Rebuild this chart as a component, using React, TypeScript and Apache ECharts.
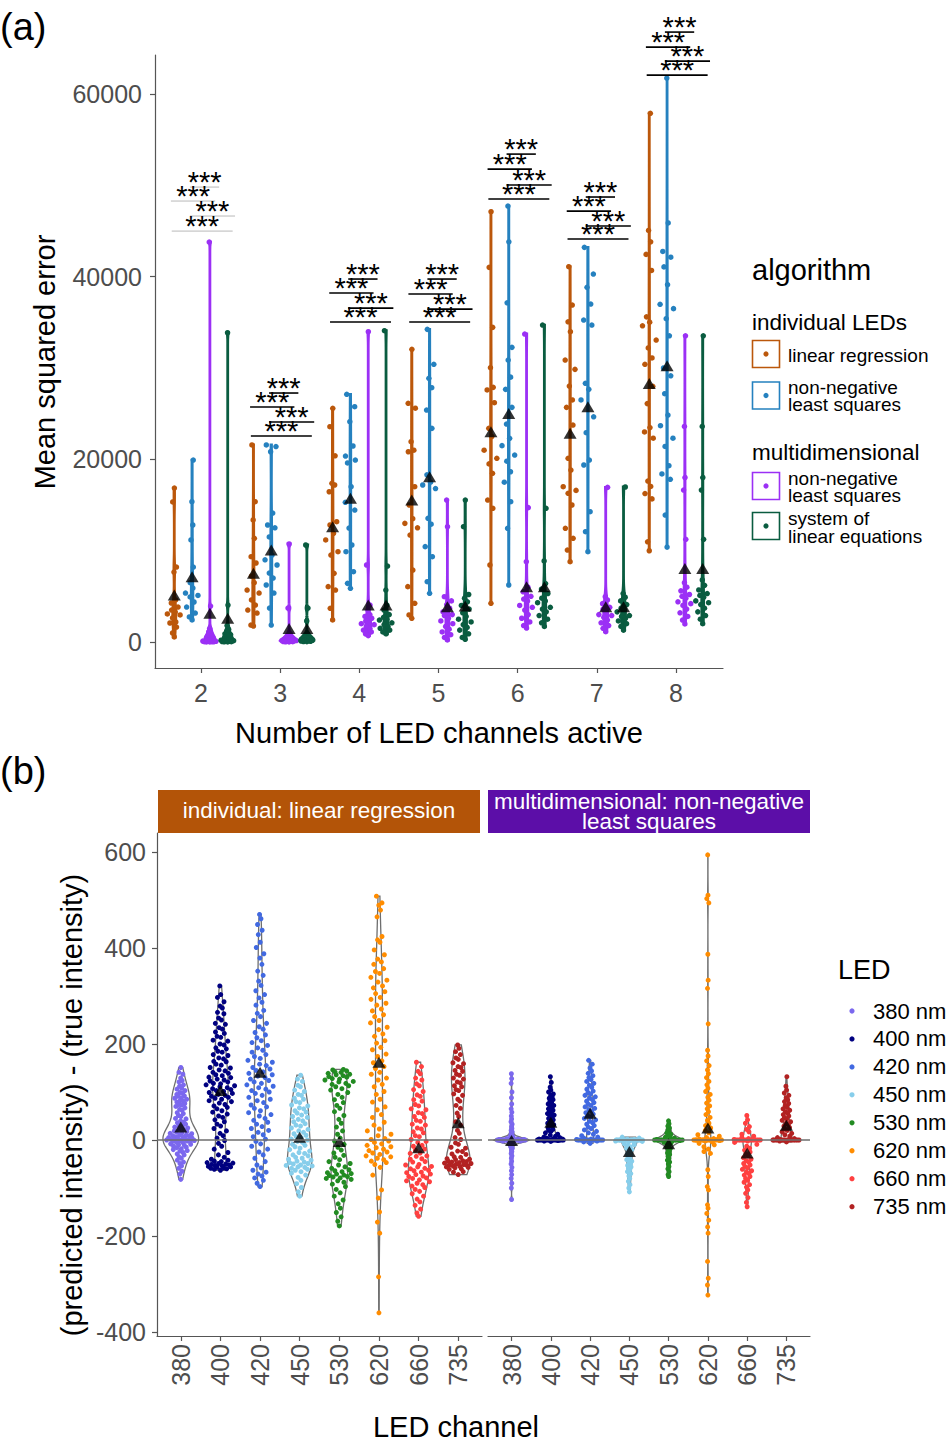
import React, { useEffect, useRef } from "react";
import * as echarts from "echarts";

const FONT = '"Liberation Sans", Arial, Helvetica, sans-serif';
const AXIS_COLOR = "#555555";
const TICK_TEXT = "#4d4d4d";

// ---------------- panel (a): mean squared error ----------------
const channelCounts = [2, 3, 4, 5, 6, 7, 8];
const algorithmColors = ["#BB570B", "#2581BF", "#9B30F5", "#0A5C40"];
const algorithmDodge = [-0.3375, -0.1125, 0.1125, 0.3375];

const mseLinearRegression = [
  [16860, 15330, 8210, 7660, 4600, 4270, 3830, 3500, 3280, 3070, 2960, 2630, 2190, 2080, 1640, 985, 550],
  [21570, 15360, 13360, 11350, 9340, 8650, 7200, 6500, 5690, 5360, 4600, 4050, 3500, 3170, 1860, 1750],
  [25580, 23570, 20390, 17370, 17190, 16450, 13170, 12810, 11900, 11170, 9890, 9520, 7520, 6060, 5690, 3690, 2410],
  [32040, 26130, 25600, 21930, 21000, 20830, 17000, 15000, 13500, 12990, 12500, 11710, 7880, 6060, 4240, 2960, 2590],
  [47110, 41020, 34450, 30030, 27880, 27600, 26200, 23390, 22500, 21000, 20110, 19500, 18470, 15540, 14640, 8430, 4240],
  [41090, 36890, 35060, 33970, 30870, 29850, 28020, 26500, 25690, 23750, 20110, 18830, 17000, 16600, 16280, 15000, 12450, 11350, 10070, 8790],
  [57890, 45060, 43810, 42440, 40680, 35600, 35020, 34620, 33060, 32200, 31100, 30400, 28000, 26100, 23480, 23000, 22310, 17620, 17030, 16250, 15670, 10970, 9990],
];
const mseNnlsIndividual = [
  [19920, 15360, 12810, 11170, 8210, 6500, 5910, 5360, 5100, 4930, 4380, 3830, 3170, 2740, 2410],
  [21570, 21400, 20830, 14120, 12810, 12500, 11500, 9520, 9000, 8430, 7550, 7000, 6240, 5360, 3720, 1860],
  [27120, 25760, 24120, 21460, 20360, 19920, 19600, 17000, 15300, 14450, 12480, 10620, 9890, 7700, 6420, 5880],
  [34230, 30400, 28870, 27840, 25400, 23390, 18300, 17500, 17190, 16800, 13540, 12900, 10440, 9340, 6600, 5330],
  [47730, 43820, 37140, 32260, 30870, 29000, 27660, 25690, 23860, 22300, 21500, 20470, 19800, 18640, 17500, 15360, 12450, 6240],
  [43210, 40290, 38830, 37000, 35250, 34700, 28320, 27660, 26500, 24660, 22920, 19920, 19380, 14270, 12080, 9890],
  [61740, 45880, 42760, 42130, 41070, 39120, 36970, 36500, 35400, 33530, 30000, 29150, 27190, 24850, 23680, 22310, 21410, 19300, 18400, 17810, 13900, 10390],
];
const mseNnlsMulti = [
  [43790, 3940, 1500, 1200, 1100, 900, 800, 700, 600, 500, 400, 350, 300, 250, 200, 150, 100, 80, 60, 40, 30, 20, 10, 5],
  [10730, 3720, 900, 700, 600, 500, 400, 300, 250, 200, 150, 100, 80, 50, 30, 20, 10],
  [33970, 8430, 4050, 3500, 3000, 2800, 2600, 2300, 2100, 2000, 1900, 1700, 1500, 1300, 1100, 900, 700],
  [15540, 12620, 4960, 4500, 4100, 3700, 3300, 3000, 2900, 2600, 2300, 2000, 1700, 1400, 1100, 800, 500, 220],
  [33720, 14710, 8790, 6000, 5500, 5000, 4700, 4500, 4000, 3800, 3500, 3000, 2600, 2200, 1800, 1530],
  [16930, 4960, 4600, 4200, 3800, 3600, 3400, 3000, 2900, 2700, 2400, 2100, 1800, 1500, 1130],
  [33530, 23600, 18010, 16640, 11240, 6500, 6000, 5600, 5200, 5000, 4800, 4400, 4200, 4000, 3600, 3200, 2800, 2400, 1980],
];
const mseSystemLinear = [
  [33860, 4050, 1800, 1400, 1200, 1100, 900, 800, 700, 600, 500, 400, 300, 250, 200, 150, 100, 80, 50, 30, 20, 10],
  [10620, 3720, 2300, 900, 700, 600, 500, 400, 300, 250, 200, 150, 100, 80, 50, 30],
  [34080, 8320, 5690, 4050, 3500, 3000, 2700, 2500, 2400, 2100, 1900, 1700, 1500, 1300, 1100, 900],
  [15540, 12620, 5200, 4800, 4400, 4000, 3600, 3200, 2800, 2500, 2200, 1900, 1600, 1300, 900, 500, 300],
  [34700, 14640, 8870, 6400, 5800, 5300, 4800, 4500, 4300, 3800, 3600, 3300, 2900, 2500, 2100, 1700],
  [16970, 5300, 4900, 4500, 4100, 3700, 3500, 3300, 2900, 2800, 2600, 2300, 2000, 1700, 1300],
  [33530, 23600, 18010, 16640, 11240, 6800, 6200, 5700, 5300, 5100, 4900, 4500, 4300, 4100, 3700, 3300, 2900, 2500, 2000],
];
const meanLinearRegression = [5145, 7520, 12620, 15540, 23020, 22850, 28290];
const meanNnlsIndividual = [7150, 10070, 15730, 18100, 25030, 25760, 30250];
const meanNnlsMulti = [3140, 1480, 4050, 3870, 6060, 3870, 8040];
const meanSystemLinear = [2590, 1480, 4050, 3950, 6060, 3870, 8040];

// significance brackets (y level per channel count, 4 comparisons each)
const sigLevels = [
  [49810, 48280, 46640, 44990],
  [27260, 25730, 24080, 22550],
  [39740, 38210, 36560, 35030],
  [39740, 38100, 36450, 35030],
  [53420, 51780, 50030, 48500],
  [48720, 47180, 45540, 44120],
  [66780, 65130, 63600, 62070],
];
const sigLeft = [-0.14, -0.38, -0.14, -0.37];
const sigRight = [0.23, 0.18, 0.43, 0.4];
const sigLabel = "***";

// ---------------- panel (b): residuals per LED ----------------
const ledChannels = ["380", "400", "420", "450", "530", "620", "660", "735"];
const ledColors = ["#7B68EE", "#000080", "#4169E1", "#87CEEB", "#228B22", "#FF8C00", "#FF4040", "#B22222"];

const lr380 = [151, 141, 137, 129, 124, 121, 115, 112, 108, 106, 103, 99, 98, 95, 92, 91, 88, 87, 85, 82, 81, 79, 76, 74, 73, 70, 67, 64, 62, 57, 55, 51, 49, 45, 44, 40, 37, 36, 33, 31, 29, 27, 25, 23, 22, 19, 18, 17, 15, 14, 13, 11, 10, 9, 9, 7, 6, 5, 4, 4, 3, 2, 1, 1, 0, 0, -1, -2, -2, -3, -4, -5, -6, -8, -9, -10, -11, -13, -15, -16, -18, -20, -22, -23, -26, -29, -31, -35, -38, -42, -46, -49, -54, -59, -65, -71, -82];
const lr400 = [321, 303, 297, 288, 279, 275, 266, 263, 254, 250, 243, 241, 234, 231, 225, 222, 216, 214, 208, 206, 200, 198, 192, 190, 185, 183, 178, 176, 171, 169, 164, 163, 158, 156, 151, 150, 146, 144, 141, 139, 136, 134, 131, 130, 127, 125, 123, 121, 118, 117, 115, 113, 111, 109, 107, 105, 103, 101, 99, 97, 95, 93, 91, 89, 87, 85, 82, 80, 77, 74, 71, 68, 65, 61, 58, 54, 50, 47, 42, 38, 33, 29, 24, 19, 14, 9, 4, -1, -7, -13, -19, -26, -31, -36, -40, -42, -44, -45, -47, -48, -49, -50, -51, -52, -53, -54, -55, -56, -57, -58, -59, -60, -61, -63];
const lr420 = [470, 461, 449, 437, 428, 412, 401, 388, 379, 366, 352, 343, 331, 322, 311, 303, 296, 287, 281, 270, 264, 257, 249, 243, 236, 231, 224, 219, 213, 207, 203, 197, 192, 187, 183, 178, 174, 170, 166, 162, 158, 155, 151, 148, 145, 142, 139, 136, 133, 130, 127, 124, 121, 118, 115, 112, 109, 106, 103, 100, 97, 93, 89, 85, 82, 78, 73, 69, 66, 61, 57, 53, 50, 45, 41, 37, 33, 28, 24, 20, 16, 11, 7, 2, -3, -8, -13, -19, -25, -31, -38, -45, -52, -58, -63, -67, -71, -75, -79, -84, -90, -97];
const lr450 = [135, 127, 122, 114, 111, 104, 101, 95, 93, 87, 85, 80, 78, 73, 71, 67, 65, 61, 58, 56, 52, 49, 47, 43, 40, 38, 34, 31, 29, 25, 22, 19, 16, 13, 10, 7, 5, 2, 0, -3, -5, -9, -11, -14, -17, -20, -23, -26, -28, -31, -33, -36, -38, -40, -42, -44, -46, -47, -49, -50, -52, -53, -54, -56, -57, -59, -61, -63, -66, -69, -73, -78, -84, -91, -99, -108, -117];
const lr530 = [147, 146, 144, 142, 141, 139, 137, 136, 134, 132, 131, 128, 127, 125, 122, 121, 118, 116, 113, 111, 107, 104, 99, 95, 89, 84, 78, 72, 66, 59, 51, 43, 35, 27, 19, 12, 4, -2, -9, -15, -21, -27, -32, -36, -41, -45, -49, -52, -56, -59, -62, -64, -66, -68, -70, -71, -73, -74, -76, -77, -79, -80, -82, -85, -88, -92, -97, -103, -110, -117, -125, -133, -142, -151, -160, -169, -179];
const lr620 = [508, 494, 489, 479, 465, 424, 417, 412, 396, 386, 377, 371, 366, 357, 351, 347, 339, 333, 329, 321, 317, 309, 305, 297, 293, 285, 281, 273, 269, 261, 257, 249, 244, 235, 230, 221, 216, 207, 202, 193, 188, 179, 174, 165, 161, 153, 149, 141, 137, 129, 125, 116, 111, 101, 95, 85, 79, 69, 63, 53, 47, 37, 31, 23, 19, 12, 9, 3, 1, -2, -5, -8, -11, -14, -16, -19, -22, -25, -27, -30, -33, -35, -38, -41, -44, -47, -51, -57, -73, -104, -121, -150, -171, -194, -285, -360];
const lr660 = [162, 153, 143, 138, 129, 125, 117, 113, 105, 101, 94, 91, 84, 81, 74, 71, 65, 63, 57, 55, 49, 47, 41, 39, 33, 31, 25, 23, 17, 15, 9, 7, 1, -3, -5, -11, -13, -19, -21, -27, -28, -33, -34, -39, -40, -45, -46, -51, -52, -55, -56, -59, -60, -63, -64, -67, -68, -71, -72, -75, -76, -79, -80, -83, -85, -87, -90, -93, -96, -99, -103, -107, -112, -117, -123, -129, -136, -144, -152, -159];
const lr735 = [198, 191, 184, 178, 171, 168, 161, 159, 153, 151, 145, 143, 137, 135, 129, 127, 121, 119, 113, 111, 105, 103, 96, 93, 85, 81, 72, 66, 56, 49, 38, 31, 20, 14, 5, 1, -6, -9, -15, -17, -23, -24, -29, -30, -35, -36, -39, -40, -41, -43, -44, -45, -46, -47, -48, -49, -50, -51, -52, -53, -54, -55, -56, -57, -58, -60, -61, -66, -67, -72];

const nn380 = [138, 128, 118, 100, 88, 75, 65, 58, 50, 44, 38, 33, 28, 24, 20, 17, 14, 11, 9, 7, 5, 4, 3, 2, 2, 1, 1, 1, 0, 0, 0, 0, 0, 0, 0, 0, 0, 0, 0, 0, 0, 0, 0, 0, 0, 0, 0, -1, -1, -1, -2, -2, -3, -4, -5, -7, -9, -11, -14, -17, -20, -24, -28, -33, -38, -44, -50, -57, -64, -72, -80, -90, -100, -124];
const nn400 = [132, 120, 110, 104, 100, 96, 93, 90, 87, 84, 81, 78, 75, 72, 70, 68, 65, 62, 60, 58, 55, 52, 50, 48, 45, 42, 40, 38, 35, 32, 30, 28, 25, 22, 20, 18, 15, 12, 10, 8, 6, 5, 4, 3, 2, 2, 1, 1, 1, 0, 0, 0, 0, 0, 0, 0, 0, 0, 0, 0, 0, 0, 0, 0, 0, -1, -2, -3];
const nn420 = [166, 158, 150, 144, 139, 134, 130, 126, 122, 118, 114, 110, 106, 102, 99, 96, 93, 90, 87, 84, 81, 78, 75, 72, 69, 66, 63, 60, 57, 54, 51, 48, 45, 42, 39, 36, 33, 30, 27, 24, 21, 18, 15, 12, 9, 6, 4, 2, 1, 0, 0, 0, 0, 0, 0, 0, 0, 0, 0, 0, 0, -2, -4, -7];
const nn450 = [6, 4, 2, 1, 0, 0, 0, 0, 0, 0, 0, 0, 0, 0, 0, 0, 0, 0, 0, 0, 0, 0, -1, -1, -2, -3, -4, -6, -8, -10, -12, -14, -17, -20, -23, -26, -29, -32, -35, -38, -41, -44, -47, -50, -53, -56, -59, -62, -66, -70, -75, -80, -86, -93, -100, -108];
const nn530 = [40, 34, 29, 25, 21, 18, 15, 12, 10, 8, 6, 4, 3, 2, 1, 0, 0, 0, 0, 0, 0, 0, 0, 0, 0, 0, 0, 0, 0, 0, 0, -1, -2, -3, -5, -7, -9, -12, -15, -18, -21, -24, -27, -30, -34, -38, -42, -46, -50, -55, -60, -66, -72, -76];
const nn620 = [594, 510, 503, 494, 387, 333, 316, 242, 187, 175, 165, 155, 146, 138, 130, 122, 115, 108, 101, 95, 89, 83, 77, 71, 65, 59, 53, 47, 41, 35, 30, 25, 20, 15, 11, 8, 5, 3, 2, 1, 0, 0, 0, 0, 0, 0, 0, 0, 0, 0, 0, 0, 0, 0, 0, 0, 0, 0, 0, -1, -2, -4, -7, -10, -14, -19, -24, -28, -62, -76, -97, -104, -135, -142, -153, -167, -181, -194, -253, -288, -302, -323];
const nn660 = [51, 42, 35, 28, 22, 17, 12, 8, 5, 3, 1, 0, 0, 0, 0, 0, 0, 0, 0, 0, 0, 0, 0, 0, 0, -2, -5, -9, -13, -17, -21, -25, -29, -33, -37, -40, -43, -46, -49, -52, -55, -58, -61, -64, -67, -70, -73, -76, -80, -84, -88, -93, -98, -104, -111, -120, -130, -139];
const nn735 = [132, 112, 104, 98, 93, 88, 84, 80, 76, 72, 68, 65, 62, 59, 56, 53, 50, 47, 44, 41, 38, 35, 32, 29, 26, 23, 20, 17, 14, 11, 8, 5, 3, 1, 0, 0, 0, 0, 0, 0, 0, 0, 0, 0, 0, 0, 0, 0, 0, -2, -4];

const residualsLinReg = [lr380, lr400, lr420, lr450, lr530, lr620, lr660, lr735];
const residualsNnls = [nn380, nn400, nn420, nn450, nn530, nn620, nn660, nn735];
const meanResidLinReg = [27, 103, 141, 6, -3, 162, -16, 36];
const meanResidNnls = [-1, 37, 56, -24, -8, 25, -27, 31];

// ---------------- statistics helpers ----------------
function quantile7(sorted: number[], p: number) {
  const h = (sorted.length - 1) * p;
  const lo = Math.floor(h);
  const hi = Math.ceil(h);
  return sorted[lo] + (h - lo) * (sorted[hi] - sorted[lo]);
}
function nrd0(x: number[]) {
  const n = x.length;
  const s = [...x].sort((a, b) => a - b);
  const mean = x.reduce((a, b) => a + b, 0) / n;
  const sd = Math.sqrt(x.reduce((a, b) => a + (b - mean) * (b - mean), 0) / (n - 1));
  const iqr = quantile7(s, 0.75) - quantile7(s, 0.25);
  let lo = Math.min(sd, iqr / 1.34);
  if (!(lo > 0)) lo = sd || Math.abs(s[0]) || 1;
  return 0.9 * lo * Math.pow(n, -0.2);
}
function kde(x: number[], bw: number, t: number) {
  let s = 0;
  for (const v of x) {
    const z = (t - v) / bw;
    s += Math.exp(-0.5 * z * z);
  }
  return s / (x.length * bw * Math.sqrt(2 * Math.PI));
}
function vdc(i: number) {
  let r = 0;
  let f = 0.5;
  while (i > 0) {
    r += f * (i & 1);
    i >>= 1;
    f /= 2;
  }
  return r;
}
function quasiOffsets(x: number[], width: number, adjust: number) {
  const bw = nrd0(x) * adjust;
  const mn = Math.min(...x) - 3 * bw;
  const mx = Math.max(...x) + 3 * bw;
  let maxd = 0;
  for (let k = 0; k < 512; k++) {
    const t = mn + ((mx - mn) * k) / 511;
    maxd = Math.max(maxd, kde(x, bw, t));
  }
  const order = x.map((_, i) => i).sort((a, b) => x[a] - x[b] || a - b);
  const rank: number[] = new Array(x.length);
  order.forEach((idx, r) => (rank[idx] = r + 1));
  return x.map((v, i) => (vdc(rank[i]) - 0.5) * 2 * (kde(x, bw, v) / maxd) * width);
}
function violinProfile(x: number[], n = 90) {
  const bw = nrd0(x);
  const mn = Math.min(...x);
  const mx = Math.max(...x);
  const ys: number[] = [];
  const ds: number[] = [];
  for (let k = 0; k < n; k++) {
    const t = mn + ((mx - mn) * k) / (n - 1);
    ys.push(t);
    ds.push(kde(x, bw, t));
  }
  return { ys, ds, max: Math.max(...ds) };
}
function violinPolygon(cx: number, prof: any, halfWidth: number, scaleMax: number) {
  const right = prof.ys.map((y: number, k: number) => [cx + (halfWidth * prof.ds[k]) / scaleMax, y]);
  const left = prof.ys.map((y: number, k: number) => [cx - (halfWidth * prof.ds[k]) / scaleMax, y]).reverse();
  return right.concat(left);
}

export default function App() {
  const ref = useRef<HTMLDivElement>(null);

  useEffect(() => {
    document.body.style.margin = "0";
    if (!ref.current) return;
    const chart = echarts.init(ref.current, null, { renderer: "svg" });

    const mseByAlg = [mseLinearRegression, mseNnlsIndividual, mseNnlsMulti, mseSystemLinear];
    const meanByAlg = [meanLinearRegression, meanNnlsIndividual, meanNnlsMulti, meanSystemLinear];

    // ---- panel (a) violins (scale = area over the panel) ----
    const profA: any[] = [];
    mseByAlg.forEach((alg, a) =>
      alg.forEach((vals, g) => profA.push({ a, cx: channelCounts[g] + algorithmDodge[a], prof: violinProfile(vals) }))
    );
    const maxA = Math.max(...profA.map((p) => p.prof.max));
    const polysA = profA.map((p) => violinPolygon(p.cx, p.prof, 0.1125, maxA));
    const colorsA = profA.map((p) => algorithmColors[p.a]);

    const seriesList: any[] = [];
    seriesList.push({
      type: "custom",
      xAxisIndex: 0,
      yAxisIndex: 0,
      z: 1,
      silent: true,
      data: profA.map((p) => [p.cx, p.prof.ys[0]]),
      renderItem: (params: any, api: any) => ({
        type: "polygon",
        shape: { points: polysA[params.dataIndex].map((pt: number[]) => api.coord(pt)) },
        style: { fill: colorsA[params.dataIndex], stroke: colorsA[params.dataIndex], lineWidth: 2.8 },
      }),
    });

    mseByAlg.forEach((alg, a) => {
      const pts: number[][] = [];
      alg.forEach((vals, g) => {
        const offs = quasiOffsets(vals, 0.1, 0.5);
        vals.forEach((v, i) => pts.push([channelCounts[g] + algorithmDodge[a] + offs[i], v]));
      });
      seriesList.push({
        type: "scatter",
        xAxisIndex: 0,
        yAxisIndex: 0,
        z: 2,
        silent: true,
        symbolSize: 5.5,
        itemStyle: { color: algorithmColors[a], opacity: 1 },
        data: pts,
      });
    });
    seriesList.push({
      type: "scatter",
      xAxisIndex: 0,
      yAxisIndex: 0,
      z: 4,
      silent: true,
      symbol: "triangle",
      symbolSize: [13, 11],
      itemStyle: { color: "#000" },
      data: meanByAlg.flatMap((m, a) => m.map((v, g) => [channelCounts[g] + algorithmDodge[a], v])),
    });
    // significance brackets
    const sigData: number[][] = [];
    sigLevels.forEach((levels, g) =>
      levels.forEach((y, k) => sigData.push([channelCounts[g], y, sigLeft[k], sigRight[k], g === 0 ? 1 : 0]))
    );
    seriesList.push({
      type: "custom",
      xAxisIndex: 0,
      yAxisIndex: 0,
      z: 5,
      clip: false,
      silent: true,
      data: sigData,
      renderItem: (params: any, api: any) => {
        const g = api.value(0);
        const y = api.value(1);
        const p1 = api.coord([g + api.value(2), y]);
        const p2 = api.coord([g + api.value(3), y]);
        const faint = api.value(4) === 1;
        return {
          type: "group",
          children: [
            {
              type: "line",
              shape: { x1: p1[0], y1: p1[1], x2: p2[0], y2: p2[1] },
              style: { stroke: faint ? "#b8b8b8" : "#000", lineWidth: faint ? 1 : 1.6 },
            },
            {
              type: "text",
              x: (p1[0] + p2[0]) / 2,
              y: p1[1] - 5,
              style: {
                text: sigLabel,
                fill: "#000",
                font: `29px ${FONT}`,
                align: "center",
                verticalAlign: "middle",
              },
            },
          ],
        };
      },
    });

    // ---- panel (b) ----
    const facets = [
      { data: residualsLinReg, means: meanResidLinReg, axis: 1 },
      { data: residualsNnls, means: meanResidNnls, axis: 2 },
    ];
    facets.forEach((f) => {
      const profs = f.data.map((vals) => violinProfile(vals));
      const facetMax = Math.max(...profs.map((p) => p.max));
      const polys = profs.map((p, i) => violinPolygon(i, p, 0.45, facetMax));
      seriesList.push({
        type: "custom",
        xAxisIndex: f.axis,
        yAxisIndex: f.axis,
        z: 1,
        silent: true,
        data: profs.map((p, i) => [i, p.ys[0]]),
        renderItem: (params: any, api: any) => ({
          type: "polygon",
          shape: { points: polys[params.dataIndex].map((pt: number[]) => api.coord(pt)) },
          style: { fill: "none", stroke: "#6e6e6e", lineWidth: 1.3 },
        }),
      });
      f.data.forEach((vals, i) => {
        const offs = quasiOffsets(vals, 0.37, 0.5);
        seriesList.push({
          type: "scatter",
          xAxisIndex: f.axis,
          yAxisIndex: f.axis,
          z: 2,
          silent: true,
          symbolSize: 5,
          itemStyle: { color: ledColors[i], opacity: 1 },
          data: vals.map((v, k) => [i + offs[k], v]),
        });
      });
      seriesList.push({
        type: "scatter",
        xAxisIndex: f.axis,
        yAxisIndex: f.axis,
        z: 3,
        silent: true,
        data: [],
        markLine: {
          silent: true,
          symbol: "none",
          label: { show: false },
          lineStyle: { color: "#6e6e6e", width: 1.5, type: "solid" },
          data: [{ yAxis: 0 }],
        },
      });
      seriesList.push({
        type: "scatter",
        xAxisIndex: f.axis,
        yAxisIndex: f.axis,
        z: 4,
        silent: true,
        symbol: "triangle",
        symbolSize: [13, 11],
        itemStyle: { color: "#000" },
        data: f.means.map((v, i) => [i, v]),
      });
    });

    const axisLine = { show: true, onZero: false, lineStyle: { color: AXIS_COLOR, width: 1.2 } };
    const ledPos = ledChannels.map((_, i) => i);
    const ledXAxis = (grid: number) => ({
      gridIndex: grid,
      type: "value",
      position: "bottom",
      min: -0.6,
      max: 7.6,
      axisLine,
      axisTick: { show: true, length: 5, lineStyle: { color: AXIS_COLOR, width: 1.2 }, customValues: ledPos },
      axisLabel: {
        customValues: ledPos,
        formatter: (v: number) => ledChannels[Math.round(v)],
        rotate: 90,
        margin: 8,
        fontSize: 25,
        color: TICK_TEXT,
        fontFamily: FONT,
      },
      splitLine: { show: false },
    });
    const residTicks = [-400, -200, 0, 200, 400, 600];

    const T = (text: string, x: number, y: number, size: number, extra: any = {}) => ({
      type: "text",
      x,
      y,
      silent: true,
      ...extra,
      style: {
        text,
        fill: extra.fill || "#000",
        font: `${size}px ${FONT}`,
        align: extra.align || "left",
        verticalAlign: "middle",
        lineHeight: extra.lineHeight,
      },
    });
    const keyBox = (y: number, color: string) => [
      {
        type: "rect",
        silent: true,
        shape: { x: 752.5, y, width: 27, height: 27 },
        style: { fill: "#fff", stroke: color, lineWidth: 1.6 },
      },
      { type: "circle", silent: true, shape: { cx: 766, cy: y + 13.5, r: 2.6 }, style: { fill: color } },
    ];

    const graphics: any[] = [
      T("(a)", 0, 27, 38),
      T("(b)", 0, 771, 38),
      T("Mean squared error", 45, 362, 29, { align: "center", rotation: Math.PI / 2 }),
      T("Number of LED channels active", 439, 733, 29, { align: "center" }),
      T("(predicted intensity) - (true intensity)", 72, 1105, 29, { align: "center", rotation: Math.PI / 2 }),
      T("LED channel", 456, 1427, 29, { align: "center" }),
      T("algorithm", 752, 270, 29),
      T("individual LEDs", 752, 322, 22.5),
      ...keyBox(340.5, algorithmColors[0]),
      T("linear regression", 788, 355, 19),
      ...keyBox(382, algorithmColors[1]),
      T("non-negative\nleast squares", 788, 396, 19, { lineHeight: 17 }),
      T("multidimensional", 752, 452, 22.5),
      ...keyBox(472.5, algorithmColors[2]),
      T("non-negative\nleast squares", 788, 487, 19, { lineHeight: 17 }),
      ...keyBox(512.5, algorithmColors[3]),
      T("system of\nlinear equations", 788, 527, 19, { lineHeight: 18 }),
      {
        type: "rect",
        silent: true,
        shape: { x: 158, y: 790, width: 322, height: 43 },
        style: { fill: "#B35408" },
      },
      T("individual: linear regression", 319, 810, 22.5, { align: "center", fill: "#fff" }),
      {
        type: "rect",
        silent: true,
        shape: { x: 488, y: 790, width: 322, height: 43 },
        style: { fill: "#5C0EA8" },
      },
      T("multidimensional: non-negative\nleast squares", 649, 811, 22.5, {
        align: "center",
        fill: "#fff",
        lineHeight: 20,
      }),
      T("LED", 838, 970, 27),
      ...ledChannels.flatMap((c, i) => [
        {
          type: "circle",
          silent: true,
          shape: { cx: 852, cy: 1011 + i * 27.95, r: 2.6 },
          style: { fill: ledColors[i] },
        },
        T(`${c} nm`, 873, 1011 + i * 27.95, 22),
      ]),
    ];

    chart.setOption({
      animation: false,
      grid: [
        { left: 155, top: 55, width: 568, height: 613, containLabel: false },
        { left: 157, top: 833, width: 325, height: 503, containLabel: false },
        { left: 488, top: 833, width: 322, height: 503, containLabel: false },
      ],
      xAxis: [
        {
          gridIndex: 0,
          type: "value",
          position: "bottom",
          min: 1.419,
          max: 8.594,
          axisLine,
          axisTick: { show: true, length: 5, lineStyle: { color: AXIS_COLOR, width: 1.2 }, customValues: channelCounts },
          axisLabel: {
            customValues: channelCounts,
            formatter: (v: number) => String(v),
            margin: 12,
            fontSize: 25,
            color: TICK_TEXT,
            fontFamily: FONT,
          },
          splitLine: { show: false },
        },
        ledXAxis(1),
        ledXAxis(2),
      ],
      yAxis: [
        {
          gridIndex: 0,
          type: "value",
          position: "left",
          min: -2847,
          max: 64270,
          axisLine,
          axisTick: { show: true, length: 5, lineStyle: { color: AXIS_COLOR, width: 1.2 }, customValues: [0, 20000, 40000, 60000] },
          axisLabel: {
            customValues: [0, 20000, 40000, 60000],
            formatter: (v: number) => String(v),
            margin: 13,
            fontSize: 25,
            color: TICK_TEXT,
            fontFamily: FONT,
          },
          splitLine: { show: false },
        },
        {
          gridIndex: 1,
          type: "value",
          position: "left",
          min: -408.3,
          max: 639.6,
          axisLine,
          axisTick: { show: true, length: 5, lineStyle: { color: AXIS_COLOR, width: 1.2 }, customValues: residTicks },
          axisLabel: {
            customValues: residTicks,
            formatter: (v: number) => String(v),
            margin: 11,
            fontSize: 25,
            color: TICK_TEXT,
            fontFamily: FONT,
          },
          splitLine: { show: false },
        },
        {
          gridIndex: 2,
          type: "value",
          position: "left",
          min: -408.3,
          max: 639.6,
          axisLine: { show: false, onZero: false },
          axisTick: { show: false },
          axisLabel: { show: false },
          splitLine: { show: false },
        },
      ],
      series: seriesList,
      graphic: graphics,
    });

    return () => chart.dispose();
  }, []);

  return <div ref={ref} style={{ position: "absolute", left: 0, top: 0, width: 950, height: 1446 }} />;
}
